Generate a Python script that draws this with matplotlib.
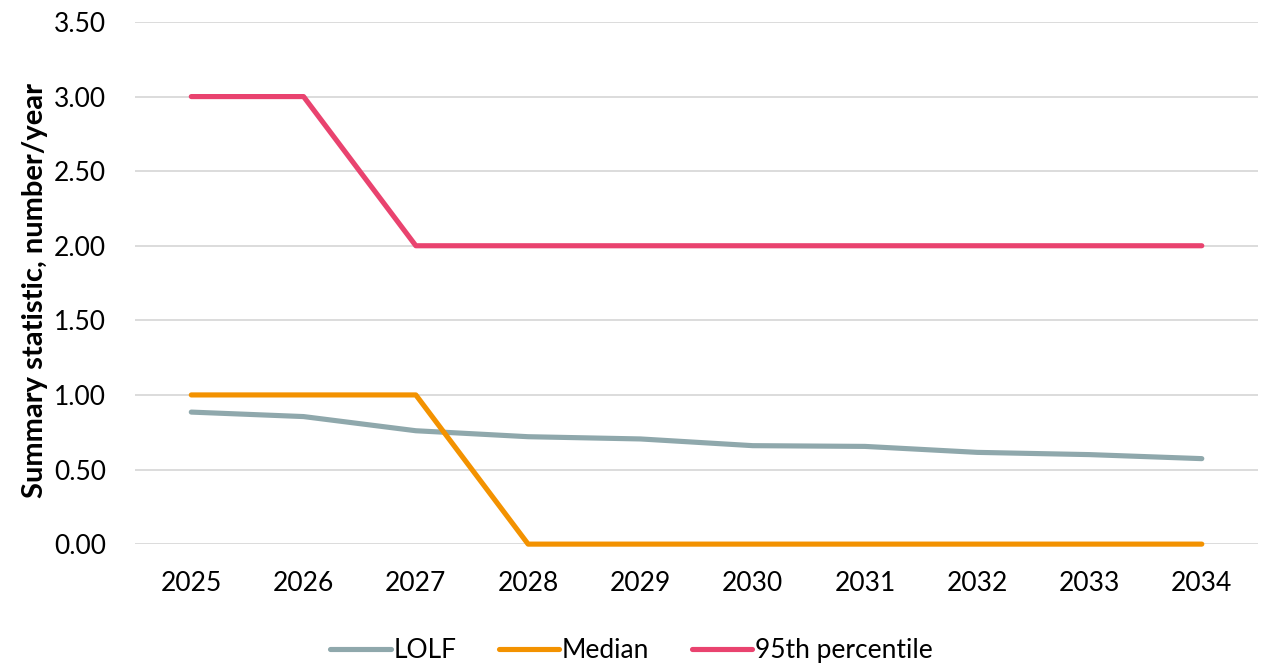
import matplotlib
matplotlib.use("Agg")
import matplotlib.pyplot as plt

# Datos de la serie por año
years = ["2025", "2026", "2027", "2028", "2029", "2030", "2031", "2032", "2033", "2034"]
lolf = [0.885, 0.855, 0.76, 0.72, 0.705, 0.66, 0.655, 0.615, 0.60, 0.573]
median = [1, 1, 1, 0, 0, 0, 0, 0, 0, 0]
p95 = [3, 3, 2, 2, 2, 2, 2, 2, 2, 2]

plt.rcParams["font.family"] = ["Lato", "DejaVu Sans"]

fig = plt.figure(figsize=(12.63, 6.66), dpi=100)
ax = fig.add_axes([0.107, 0.183, 0.889, 0.784])

x = list(range(len(years)))
# sin recorte para que la línea en 0 se vea completa
estilo = dict(lw=3.7, solid_capstyle="round", solid_joinstyle="round", clip_on=False)
ax.plot(x, lolf, color="#8FA8AC", label="LOLF", **estilo)
ax.plot(x, median, color="#F39200", label="Median", **estilo)
ax.plot(x, p95, color="#E9436F", label="95th percentile", **estilo)

ax.set_xlim(-0.5, len(years) - 0.5)
ax.set_ylim(0, 3.5)
ax.set_yticks([i * 0.5 for i in range(8)])
ax.set_yticklabels([f"{i * 0.5:.2f}" for i in range(8)])
ax.set_xticks(x)
ax.set_xticklabels(years)
ax.tick_params(axis="both", length=0, labelsize=19)
ax.tick_params(axis="y", pad=21)
ax.tick_params(axis="x", pad=19)

ax.grid(axis="y", color="#D9D9D9", lw=1.3)
ax.set_axisbelow(True)
for s in ax.spines.values():
    s.set_visible(False)

ax.set_ylabel("Summary statistic, number/year", fontsize=21, fontweight="bold")
ax.yaxis.set_label_coords(-0.078, 0.485)

ax.legend(loc="upper center", bbox_to_anchor=(0.5, 0.078), bbox_transform=fig.transFigure,
          ncol=3, frameon=False, fontsize=19, handlelength=2.3, columnspacing=1.6,
          handletextpad=0.1)

fig.savefig("out.png", dpi=100)
